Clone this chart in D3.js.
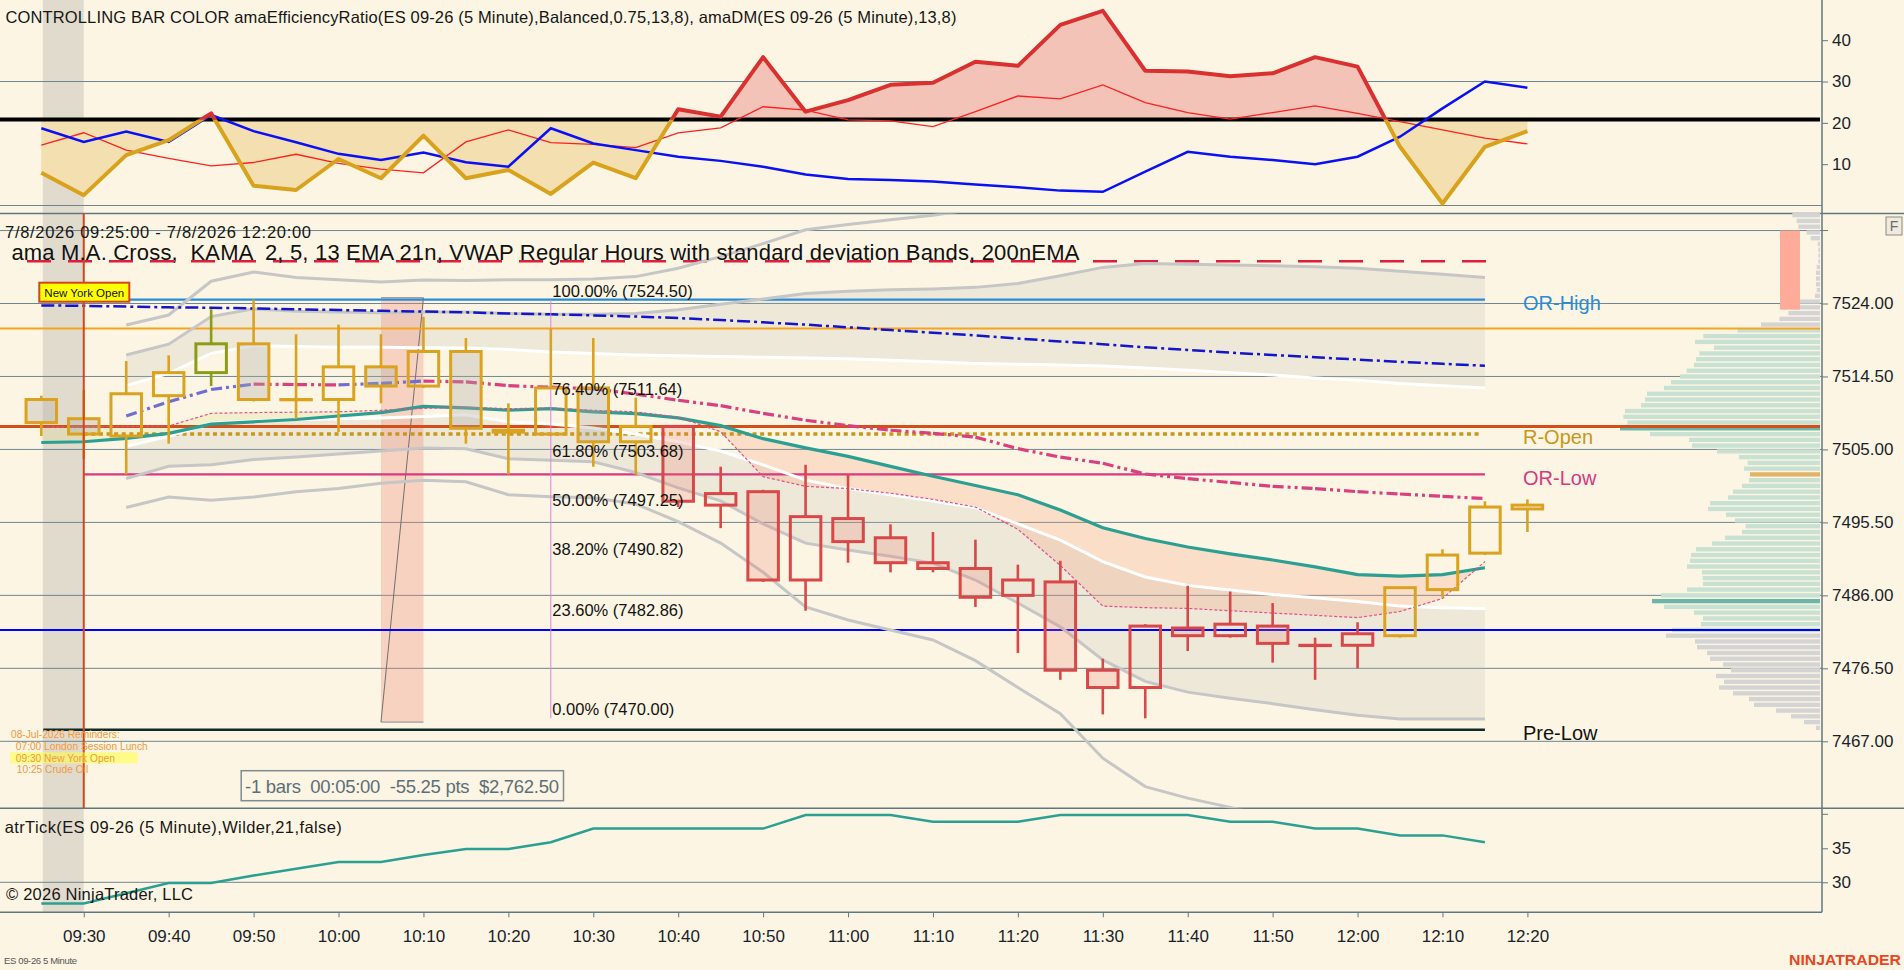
<!DOCTYPE html>
<html>
<head>
<meta charset="utf-8">
<script src="https://cdn.jsdelivr.net/npm/d3@7"></script>
<style>
  body { margin: 0; background: #fcf5e3; overflow: hidden; }
  svg { display: block; }
  text { font-family: "Liberation Sans", Arial, sans-serif; }
</style>
</head>
<body>
<svg id="chart"></svg>
<script>
// ---- bars (ES 09-26, 5 minute) ----
var times = ["09:25","09:30","09:35","09:40","09:45","09:50","09:55","10:00","10:05","10:10","10:15","10:20",
  "10:25","10:30","10:35","10:40","10:45","10:50","10:55","11:00","11:05","11:10","11:15","11:20",
  "11:25","11:30","11:35","11:40","11:45","11:50","11:55","12:00","12:05","12:10","12:15","12:20"];
var open  = [7511.5,7509.0,7506.75,7512.0,7515.0,7518.75,7511.5,7511.5,7515.75,7513.25,7517.75,7507.5,
  7507.0,7513.0,7506.0,7508.0,7497.75,7499.5,7488.0,7496.0,7493.5,7490.25,7489.5,7486.0,
  7487.75,7476.25,7474.0,7481.75,7480.75,7482.0,7479.5,7479.5,7480.75,7486.75,7491.5,7497.25];
var high  = [7512.0,7512.75,7516.5,7517.25,7523.25,7524.5,7520.0,7521.25,7520.0,7522.25,7519.5,7511.0,
  7520.75,7519.5,7511.75,7508.0,7502.75,7499.75,7503.0,7501.75,7495.25,7494.25,7493.25,7490.0,
  7490.5,7477.75,7482.25,7487.25,7486.5,7485.0,7480.5,7482.5,7487.0,7492.0,7498.25,7498.5];
var low   = [7506.75,7503.75,7501.75,7505.75,7513.25,7511.25,7509.0,7507.25,7511.0,7513.0,7505.75,7501.75,
  7506.75,7502.75,7501.75,7497.5,7494.75,7487.75,7484.0,7490.25,7489.0,7489.0,7484.5,7478.5,
  7475.0,7470.5,7470.0,7478.75,7480.5,7477.25,7475.0,7476.5,7480.5,7485.75,7491.25,7494.25];
var close = [7508.5,7507.0,7512.25,7515.0,7518.75,7511.5,7511.5,7515.75,7513.25,7517.75,7507.75,7507.25,
  7513.0,7506.0,7508.0,7498.25,7499.25,7488.0,7496.25,7493.0,7490.25,7489.5,7485.75,7488.0,
  7476.25,7474.0,7482.0,7480.75,7482.25,7479.75,7479.5,7481.0,7487.0,7491.25,7497.5,7497.75];
var barColor = ["gold","gold","gold","gold","olive","gold","gold","gold","gold","gold","gold","gold",
  "gold","gold","gold","red","red","red","red","red","red","red","red","red",
  "red","red","red","red","red","red","red","red","gold","gold","gold","gold"];

// ---- price panel indicators ----
var ema21 = [7505.9,7506.0,7506.45,7507.1,7508.3,7508.6,7508.9,7509.35,7509.8,7510.6,7510.4,7510.1,
  7510.3,7509.9,7509.65,7509.1,7508.1,7506.4,7505.2,7504.1,7502.8,7501.5,7500.3,7499.1,
  7497.1,7494.8,7493.4,7492.3,7491.4,7490.6,7489.7,7488.7,7488.5,7488.7,7489.6];
var kama = [7507.9,7507.9,7508.0,7508.05,7509.7,7509.8,7509.85,7509.9,7510.1,7510.35,7510.5,7510.3,
  7510.4,7510.1,7509.9,7509.2,7507.3,7501.45,7500.2,7499.9,7499.3,7498.5,7497.5,7494.6,
  7489.9,7484.6,7484.4,7484.3,7484.0,7483.7,7483.4,7483.1,7483.9,7485.6,7490.4];
var ema200 = [7523.75,7523.7,7523.6,7523.5,7523.45,7523.35,7523.25,7523.15,7523.05,7522.95,7522.85,7522.7,
  7522.6,7522.45,7522.3,7522.1,7521.85,7521.55,7521.25,7520.9,7520.55,7520.2,7519.85,7519.45,
  7519.05,7518.7,7518.3,7517.95,7517.6,7517.3,7517.0,7516.7,7516.4,7516.15,7515.9];
var vwap = [null,null,7509.35,7511.2,7512.8,7513.5,7513.45,7513.4,7513.6,7513.9,7513.8,7513.3,
  7513.1,7512.9,7512.2,7511.4,7510.7,7509.7,7508.8,7508.1,7507.5,7507.1,7506.6,7505.1,
  7504.0,7503.2,7501.8,7501.2,7500.7,7500.2,7499.9,7499.5,7499.2,7498.9,7498.6];
var vwapUp1 = [null,null,7513.3,7514.9,7517.5,7518.5,7518.4,7518.3,7518.3,7518.25,7518.2,7518.0,
  7517.7,7517.5,7517.3,7517.2,7517.1,7517.0,7516.9,7516.8,7516.6,7516.4,7516.2,7516.1,
  7516.0,7515.85,7515.6,7515.3,7515.0,7514.7,7514.3,7514.0,7513.6,7513.3,7513.0];
var vwapUp2 = [null,null,7517.3,7518.7,7522.3,7523.3,7523.0,7522.9,7522.8,7522.9,7522.9,7522.7,
  7522.6,7522.6,7522.7,7523.2,7523.9,7524.6,7525.3,7525.6,7525.8,7525.9,7526.1,7526.6,
  7527.6,7528.7,7529.2,7529.1,7529.0,7528.9,7528.8,7528.6,7528.2,7527.8,7527.4];
var vwapUp3 = [null,null,7521.2,7522.5,7526.9,7528.1,7527.4,7527.1,7526.8,7527.05,7527.0,7527.1,
  7527.1,7527.2,7527.5,7528.6,7530.1,7531.8,7533.6,7534.3,7534.9,7535.5,7536.3,7538.0];
var vwapDn1 = [null,null,7505.4,7506.7,7508.4,7508.7,7508.9,7509.0,7509.1,7509.3,7509.5,7508.6,
  7508.3,7507.8,7507.0,7506.0,7504.8,7503.0,7501.0,7499.9,7499.1,7498.3,7497.4,7495.3,
  7493.2,7490.4,7488.4,7487.3,7486.7,7486.1,7485.7,7485.2,7484.6,7484.4,7484.3];
var vwapDn2 = [null,null,7501.2,7502.8,7503.0,7503.7,7504.0,7504.4,7504.8,7505.2,7505.1,7503.8,
  7503.6,7503.4,7502.0,7500.0,7498.3,7495.3,7492.8,7491.9,7491.1,7490.2,7488.0,7485.0,
  7481.9,7477.6,7474.8,7473.4,7472.6,7471.9,7471.1,7470.4,7469.9,7469.9,7469.9];
var vwapDn3 = [null,null,7497.45,7498.8,7498.4,7498.8,7499.5,7499.9,7500.6,7501.0,7500.8,7499.1,
  7498.85,7498.7,7497.9,7495.6,7492.8,7489.0,7484.5,7482.8,7481.5,7480.2,7477.5,7474.0,
  7470.6,7464.8,7461.1,7459.6,7458.4,7457.2];

// ---- levels ----
var levelNames  = ["OR-High", "R-Open", "OR-Low", "Pre-Low"];
var levelPrices = [7524.50, 7507.00, 7501.75, 7468.50];
var fullLinePrices = [7520.75, 7508.00, 7481.50];
var crossLinePrice = 7529.50;
var fibPercents = [100, 76.4, 61.8, 50, 38.2, 23.6, 0];
var fibPrices   = [7524.50, 7511.64, 7503.68, 7497.25, 7490.82, 7482.86, 7470.00];
var rulerTop = 7524.75, rulerBottom = 7469.50;
var priceTicks = [7524.00, 7514.50, 7505.00, 7495.50, 7486.00, 7476.50, 7467.00];
var priceGrid  = [7533.50, 7524.00, 7514.50, 7505.00, 7495.50, 7486.00, 7476.50, 7467.00];

// ---- volume profile ----
var vpPrices = [7535.5,7534.75,7534,7533.25,7532.5,7531.75,7531,7530.25,7529.5,7528.75,
  7528,7527.25,7526.5,7525.75,7525,7524.25,7523.5,7522.75,7522,7521.25,
  7520.5,7519.75,7519,7518.25,7517.5,7516.75,7516,7515.25,7514.5,7513.75,
  7513,7512.25,7511.5,7510.75,7510,7509.25,7508.5,7507.75,7507,7506.25,
  7505.5,7504.75,7504,7503.25,7502.5,7501.75,7501,7500.25,7499.5,7498.75,
  7498,7497.25,7496.5,7495.75,7495,7494.25,7493.5,7492.75,7492,7491.25,
  7490.5,7489.75,7489,7488.25,7487.5,7486.75,7486,7485.25,7484.5,7483.75,
  7483,7482.25,7481.5,7480.75,7480,7479.25,7478.5,7477.75,7477,7476.25,
  7475.5,7474.75,7474,7473.25,7472.5,7471.75,7471,7470.25,7469.5,7468.75];
var vpVolume = [83,70,65,40,28,7,5,5,5,10,
  12,12,12,10,15,60,85,95,122,177,
  248,350,375,318,362,372,378,400,420,447,
  468,519,525,537,585,590,578,600,510,393,
  384,309,243,217,228,210,213,234,261,276,
  330,336,282,255,223,234,285,324,372,387,
  390,399,354,352,351,399,477,504,468,378,
  351,357,444,462,375,369,339,330,291,267,
  312,288,303,261,213,198,132,87,48,12];
var valueAreaHigh = 7520.5, valueAreaLow = 7481.5;
var markedRows = [7507.75, 7485.25];
var openRangeRow = 7501.75;

// ---- top panel: amaEfficiencyRatio / amaDM ----
var effRatio = [7.9,2.5,12.2,15.8,22.3,4.8,3.75,11.25,6.6,16.9,6.6,8.6,
  2.8,10.4,6.6,23.3,21.5,35.9,22.7,25.5,29.2,29.7,34.8,33.8,
  43.7,47.1,32.6,32.4,31.3,32.0,35.9,33.6,14.2,0.5,14.2,18.0];
var dmRed = [14.6,17.6,13.4,11.4,9.6,10.4,12.4,10.2,8.8,7.9,15.4,18.3,
  15.2,14.8,14.0,17.6,18.8,23.9,23.1,20.7,20.5,19.1,22.7,26.5,
  25.8,29.2,24.9,22.5,20.9,22.5,24.1,22.3,20.3,18.3,16.3,14.9];
var dmBlue = [18.7,15.4,17.9,15.4,21.9,18.0,15.3,12.5,11.0,12.8,10.45,9.4,
  18.7,15.0,13.4,11.8,10.8,9.4,7.5,6.4,6.2,5.8,5.1,4.4,
  3.6,3.3,8.2,13.0,11.8,11.0,10.0,11.8,16.65,23.5,30.0,28.5];
var erThreshold = 20.8;
var topTicks = [10, 20, 30, 40];

// ---- bottom panel: atrTick ----
var atrTick = [26.9,26.9,28.4,29.9,29.9,31.0,32.0,33.0,33.0,34.0,34.9,34.9,
  35.9,37.9,37.9,37.9,37.9,37.9,39.9,39.9,39.9,38.9,38.9,38.9,
  39.9,39.9,39.9,39.9,38.9,38.9,37.9,37.9,36.9,36.9,35.9];
var atrTicks = [30, 35];

// ================= drawing =================
var W = 1904, H = 970;
var bg = "#fcf5e3";
var gridColor = "#6d8690";
var axisX = 1822, plotRight = 1820;
var mainTop = 213.5, mainBottom = 808.3, atrBottom = 912.3, topBottom = 212;

var svg = d3.select("#chart").attr("width", W).attr("height", H);
svg.append("rect").attr("width", W).attr("height", H).attr("fill", bg);

var parseT = d3.timeParse("%H:%M");
var x = d3.scaleTime().domain([parseT("09:25"), parseT("12:20")]).range([41.3, 1527.4]);
var xi = function(i) { return x(parseT(times[i])); };
var y = d3.scaleLinear().domain([7467, 7524]).range([741.3, 303.5]);
var yTop = d3.scaleLinear().domain([0, 40]).range([205.5, 40.2]);
var yAtr = d3.scaleLinear().domain([30, 35]).range([882.3, 848.3]);

var defs = svg.append("defs");
defs.append("clipPath").attr("id", "clipMain").append("rect")
  .attr("x", 0).attr("y", mainTop).attr("width", plotRight).attr("height", mainBottom - mainTop);
defs.append("clipPath").attr("id", "clipTop").append("rect")
  .attr("x", 0).attr("y", 0).attr("width", plotRight).attr("height", topBottom);
var thY = yTop(erThreshold);
defs.append("clipPath").attr("id", "clipAbove").append("rect")
  .attr("x", 0).attr("y", 0).attr("width", plotRight).attr("height", thY);
defs.append("clipPath").attr("id", "clipBelow").append("rect")
  .attr("x", 0).attr("y", thY).attr("width", plotRight).attr("height", topBottom - thY);

// highlighted first bar column
svg.append("rect")
  .attr("x", xi(0) + 1.5).attr("y", 0)
  .attr("width", xi(1) - xi(0) - 1.5).attr("height", atrBottom)
  .attr("fill", "rgba(150,150,150,0.27)");

// grid
svg.append("g").selectAll("line").data(priceGrid).enter().append("line")
  .attr("x1", 0).attr("x2", axisX).attr("y1", d => y(d)).attr("y2", d => y(d))
  .attr("stroke", gridColor).attr("stroke-width", 1);
svg.append("g").selectAll("line").data([30, 0]).enter().append("line")
  .attr("x1", 0).attr("x2", axisX).attr("y1", d => yTop(d)).attr("y2", d => yTop(d))
  .attr("stroke", gridColor).attr("stroke-width", 1);
svg.append("line").attr("x1", 0).attr("x2", axisX).attr("y1", yAtr(30)).attr("y2", yAtr(30))
  .attr("stroke", gridColor).attr("stroke-width", 1);

// panel separators + axis line
[[mainTop, W], [mainBottom, W], [atrBottom, axisX]].forEach(function(s) {
  svg.append("line").attr("x1", 0).attr("x2", s[1]).attr("y1", s[0]).attr("y2", s[0])
    .attr("stroke", "#5f7880").attr("stroke-width", 1.5);
});
svg.append("line").attr("x1", axisX).attr("x2", axisX).attr("y1", 0).attr("y2", atrBottom)
  .attr("stroke", "#5f7880").attr("stroke-width", 1.5);

// ---------- top panel ----------
var topG = svg.append("g").attr("clip-path", "url(#clipTop)");
var erArea = d3.area().x((d, i) => xi(i)).y0(thY).y1(d => yTop(d));
var erLine = d3.line().x((d, i) => xi(i)).y(d => yTop(d));
topG.append("g").attr("clip-path", "url(#clipAbove)").append("path")
  .attr("d", erArea(effRatio)).attr("fill", "#f3c3b7");
topG.append("g").attr("clip-path", "url(#clipBelow)").append("path")
  .attr("d", erArea(effRatio)).attr("fill", "#f3dfb0");
topG.append("line").attr("x1", 0).attr("x2", plotRight).attr("y1", thY).attr("y2", thY)
  .attr("stroke", "#000").attr("stroke-width", 4);
topG.append("path").attr("d", erLine(dmRed)).attr("fill", "none")
  .attr("stroke", "#ff2020").attr("stroke-width", 1.3);
topG.append("path").attr("d", erLine(dmBlue)).attr("fill", "none")
  .attr("stroke", "#0a10f5").attr("stroke-width", 2.5);
topG.append("g").attr("clip-path", "url(#clipAbove)").append("path")
  .attr("d", erLine(effRatio)).attr("fill", "none")
  .attr("stroke", "#da3030").attr("stroke-width", 4).attr("stroke-linejoin", "round");
topG.append("g").attr("clip-path", "url(#clipBelow)").append("path")
  .attr("d", erLine(effRatio)).attr("fill", "none")
  .attr("stroke", "#d9a21d").attr("stroke-width", 4).attr("stroke-linejoin", "round");

// ---------- volume profile ----------
var vpW = d3.scaleLinear().domain([0, 600]).range([0, 200]);
svg.append("g").selectAll("rect").data(vpPrices).enter().append("rect")
  .attr("x", (d, i) => plotRight - vpW(vpVolume[i]))
  .attr("y", d => y(d) - 2.15)
  .attr("width", (d, i) => vpW(vpVolume[i]))
  .attr("height", 4.3)
  .attr("fill", function(d) {
    if (markedRows.indexOf(d) >= 0) return "#6cb5a9";
    if (d === openRangeRow) return "#e2b266";
    if (d > valueAreaHigh || d < valueAreaLow) return "#d4d4d4";
    return "#c9e1d3";
  });
svg.append("rect").attr("x", 1780).attr("width", 20)
  .attr("y", y(7533.5)).attr("height", y(7523.2) - y(7533.5))
  .attr("fill", "#ffab9a");

// ---------- main panel ----------
var mainG = svg.append("g").attr("clip-path", "url(#clipMain)");
var idx = d3.range(35);

function bandArea(a, b) {
  return d3.area().defined(i => a[i] != null && b[i] != null)
    .x(i => xi(i)).y0(i => y(a[i])).y1(i => y(b[i]))(idx);
}
mainG.append("path").attr("d", bandArea(vwapUp1, vwapUp2)).attr("fill", "rgba(190,185,180,0.22)");
mainG.append("path").attr("d", bandArea(vwapDn1, vwapDn2)).attr("fill", "rgba(190,185,180,0.22)");

// KAMA / EMA cross fill
var emaBelow = d3.area().x(i => xi(i)).y0(i => y(ema21[i])).y1(mainBottom)(idx);
var emaAbove = d3.area().x(i => xi(i)).y0(mainTop).y1(i => y(ema21[i]))(idx);
defs.append("clipPath").attr("id", "clipEmaBelow").append("path").attr("d", emaBelow);
defs.append("clipPath").attr("id", "clipEmaAbove").append("path").attr("d", emaAbove);
var crossArea = d3.area().x(i => xi(i)).y0(i => y(ema21[i])).y1(i => y(kama[i]))(idx);
mainG.append("g").attr("clip-path", "url(#clipEmaBelow)").append("path")
  .attr("d", crossArea).attr("fill", "rgba(245,160,130,0.28)");
mainG.append("g").attr("clip-path", "url(#clipEmaAbove)").append("path")
  .attr("d", crossArea).attr("fill", "rgba(215,215,120,0.22)");

// ruler drawing
var rx0 = xi(8), rx1 = xi(9);
mainG.append("rect").attr("x", rx0).attr("width", rx1 - rx0)
  .attr("y", y(rulerTop)).attr("height", y(rulerBottom) - y(rulerTop))
  .attr("fill", "rgba(240,140,120,0.33)");
[rulerTop, rulerBottom].forEach(function(p) {
  mainG.append("line").attr("x1", rx0).attr("x2", rx1).attr("y1", y(p)).attr("y2", y(p))
    .attr("stroke", "#8a8a8a").attr("stroke-width", 1);
});
mainG.append("line").attr("x1", rx1).attr("y1", y(rulerTop)).attr("x2", rx0).attr("y2", y(rulerBottom))
  .attr("stroke", "#707070").attr("stroke-width", 1);

// full-width levels
var fullColors = ["#f5a41e", "#d24f1a", "#0000ff"];
var fullWidths = [2, 3, 2];
mainG.selectAll(".full").data(fullLinePrices).enter().append("line")
  .attr("x1", 0).attr("x2", plotRight).attr("y1", d => y(d)).attr("y2", d => y(d))
  .attr("stroke", (d, i) => fullColors[i]).attr("stroke-width", (d, i) => fullWidths[i]);

// session levels
var levelColors = ["#2b8bd6", "#c9961c", "#d63a7f", "#0d2b2b"];
mainG.selectAll(".lvl").data(levelPrices).enter().append("line")
  .attr("x1", (d, i) => i === 3 ? xi(0) + 2 : xi(1))
  .attr("x2", (d, i) => i === 1 ? xi(34) - 5 : xi(34))
  .attr("y1", d => y(d)).attr("y2", d => y(d))
  .attr("stroke", (d, i) => levelColors[i])
  .attr("stroke-width", (d, i) => i === 1 ? 3.5 : (i === 3 ? 2.5 : 2.2))
  .attr("stroke-dasharray", (d, i) => i === 1 ? "4,3.6" : null);
svg.selectAll(".lvlText").data(levelNames).enter().append("text")
  .attr("x", 1523).attr("y", (d, i) => y(levelPrices[i]) + 5)
  .attr("dominant-baseline", "middle")
  .attr("font-size", 20).attr("fill", (d, i) => levelColors[i] === "#0d2b2b" ? "#111" : levelColors[i])
  .text(d => d);

// M.A. cross line (dashed red)
mainG.append("line").attr("x1", 27).attr("x2", 1501)
  .attr("y1", y(crossLinePrice)).attr("y2", y(crossLinePrice))
  .attr("stroke", "#dc1f3f").attr("stroke-width", 2.6).attr("stroke-dasharray", "24,17");

// VWAP bands
function seriesLine(arr) {
  return d3.line().defined(i => arr[i] != null).x(i => xi(i)).y(i => y(arr[i]))(idx);
}
[vwapUp3, vwapDn3, vwapUp2, vwapDn2].forEach(function(a) {
  mainG.append("path").attr("d", seriesLine(a)).attr("fill", "none")
    .attr("stroke", "#c6c6c6").attr("stroke-width", 3);
});
[vwapUp1, vwapDn1].forEach(function(a) {
  mainG.append("path").attr("d", seriesLine(a)).attr("fill", "none")
    .attr("stroke", "#ffffff").attr("stroke-width", 3);
});

// EMA 21
mainG.append("path").attr("d", seriesLine(ema21)).attr("fill", "none")
  .attr("stroke", "#2a9f92").attr("stroke-width", 3.2);
// KAMA
mainG.append("path").attr("d", seriesLine(kama)).attr("fill", "none")
  .attr("stroke", "#e2508c").attr("stroke-width", 1.2).attr("stroke-dasharray", "3,2");
// 200 nEMA
mainG.append("path").attr("d", seriesLine(ema200)).attr("fill", "none")
  .attr("stroke", "#1414c8").attr("stroke-width", 2.5).attr("stroke-dasharray", "13,4,3,4");
// VWAP, coloured by slope
d3.range(2, 34).forEach(function(i) {
  var rising = vwap[i + 1] >= vwap[i];
  mainG.append("line")
    .attr("x1", xi(i)).attr("y1", y(vwap[i])).attr("x2", xi(i + 1)).attr("y2", y(vwap[i + 1]))
    .attr("stroke", rising ? "#6f6fd2" : "#d8407f").attr("stroke-width", 3.2)
    .attr("stroke-dasharray", "11,4,3,4,3,4");
});

// fib vertical
var fibX = xi(12);
mainG.append("line").attr("x1", fibX).attr("x2", fibX)
  .attr("y1", y(fibPrices[0])).attr("y2", y(fibPrices[6]))
  .attr("stroke", "#e27ef0").attr("stroke-width", 1);

// candles
var colorMap = { gold: "#daa21f", red: "#d94848", olive: "#8b9c16" };
var downFill = { gold: "rgba(170,170,165,0.33)", red: "rgba(235,120,100,0.22)", olive: "rgba(170,170,165,0.33)" };
var bw = 30.5;
var candles = mainG.append("g").selectAll("g").data(d3.range(times.length)).enter().append("g");
candles.each(function(i) {
  var g = d3.select(this);
  var cx = xi(i), col = colorMap[barColor[i]];
  var top = y(Math.max(open[i], close[i])), bot = y(Math.min(open[i], close[i]));
  g.append("line").attr("x1", cx).attr("x2", cx).attr("y1", y(high[i])).attr("y2", top)
    .attr("stroke", col).attr("stroke-width", 2.6);
  g.append("line").attr("x1", cx).attr("x2", cx).attr("y1", bot).attr("y2", y(low[i]))
    .attr("stroke", col).attr("stroke-width", 2.6);
  g.append("rect").attr("x", cx - bw / 2).attr("y", top)
    .attr("width", bw).attr("height", Math.max(bot - top, 0.3))
    .attr("fill", close[i] < open[i] ? downFill[barColor[i]] : "none")
    .attr("stroke", col).attr("stroke-width", 3);
});

// fib labels
svg.selectAll(".fib").data(fibPrices).enter().append("text")
  .attr("x", fibX + 1.5).attr("y", d => y(d) - 3)
  .attr("font-size", 16.5).attr("fill", "#121212")
  .text((d, i) => fibPercents[i].toFixed(2) + "% (" + d.toFixed(2) + ")");

// New York open marker
svg.append("line").attr("x1", xi(1)).attr("x2", xi(1)).attr("y1", mainTop).attr("y2", mainBottom)
  .attr("stroke", "#d2451e").attr("stroke-width", 2);
svg.append("rect").attr("x", 39.3).attr("y", 282.7).attr("width", 90).attr("height", 19)
  .attr("fill", "#ffff00").attr("stroke", "#d2451e").attr("stroke-width", 2);
svg.append("text").attr("x", 84.3).attr("y", 296.5).attr("text-anchor", "middle")
  .attr("font-size", 11.5).attr("fill", "#111").text("New York Open");

// reminders
var remG = svg.append("g").attr("font-size", 10.2).attr("fill", "#f39a3c");
remG.append("rect").attr("x", 10).attr("y", 752.3).attr("width", 127.6).attr("height", 11)
  .attr("fill", "rgba(255,255,60,0.55)");
remG.append("text").attr("x", 11).attr("y", 738).text("08-Jul-2026 Reminders:");
remG.append("text").attr("x", 15.8).attr("y", 749.5).text("07:00 London Session Lunch");
remG.append("text").attr("x", 15.8).attr("y", 761.5).text("09:30 New York Open");
remG.append("text").attr("x", 16.8).attr("y", 773).text("10:25 Crude Oil");

// ruler readout box
svg.append("rect").attr("x", 241.2).attr("y", 770.7).attr("width", 322.3).attr("height", 30)
  .attr("fill", "none").attr("stroke", "#7d8c92").attr("stroke-width", 1.5);
svg.append("text").attr("x", 245).attr("y", 792.5).attr("font-size", 18.5)
  .attr("fill", "#5c6f78").attr("textLength", 314).style("white-space", "pre")
  .text("-1 bars  00:05:00  -55.25 pts  $2,762.50");

// ---------- bottom panel ----------
svg.append("path").attr("d", d3.line().x((d, i) => xi(i)).y(d => yAtr(d))(atrTick))
  .attr("fill", "none").attr("stroke", "#2aa093").attr("stroke-width", 2.5);

// ---------- axes ----------
var axisFont = 17;
var pAxis = svg.append("g").attr("transform", "translate(" + axisX + ",0)")
  .call(d3.axisRight(y).tickValues(priceTicks).tickFormat(d3.format(".2f")).tickSize(6).tickPadding(4));
svg.append("line").attr("x1", axisX).attr("x2", axisX + 6).attr("y1", y(7533.5)).attr("y2", y(7533.5))
  .attr("stroke", "#5f7880");
var tAxis = svg.append("g").attr("transform", "translate(" + axisX + ",0)")
  .call(d3.axisRight(yTop).tickValues(topTicks).tickFormat(d3.format("d")).tickSize(6).tickPadding(4));
var aAxis = svg.append("g").attr("transform", "translate(" + axisX + ",0)")
  .call(d3.axisRight(yAtr).tickValues(atrTicks).tickFormat(d3.format("d")).tickSize(6).tickPadding(4));
svg.append("line").attr("x1", axisX).attr("x2", axisX + 6).attr("y1", yAtr(40)).attr("y2", yAtr(40))
  .attr("stroke", "#5f7880");
var tenMin = times.filter(t => +t.slice(3) % 10 === 0).map(parseT);
var xAxis = svg.append("g").attr("transform", "translate(0," + atrBottom + ")")
  .call(d3.axisBottom(x).tickValues(tenMin).tickFormat(d3.timeFormat("%H:%M")).tickSize(5).tickPadding(13));
[pAxis, tAxis, aAxis, xAxis].forEach(function(a) {
  a.select(".domain").remove();
  a.selectAll(".tick line").attr("stroke", "#5f7880");
  a.selectAll("text").attr("font-size", axisFont).attr("fill", "#1b1f2a")
    .attr("font-family", "'Liberation Sans', Arial, sans-serif");
});

// ---------- titles / misc text ----------
svg.append("text").attr("x", 5.4).attr("y", 22.5).attr("font-size", 16.5).attr("fill", "#161616")
  .attr("textLength", 951)
  .text("CONTROLLING BAR COLOR amaEfficiencyRatio(ES 09-26 (5 Minute),Balanced,0.75,13,8), amaDM(ES 09-26 (5 Minute),13,8)");
svg.append("text").attr("x", 5).attr("y", 237.5).attr("font-size", 16.5).attr("fill", "#161616")
  .attr("textLength", 306).text("7/8/2026 09:25:00 - 7/8/2026 12:20:00");
svg.append("text").attr("x", 11.4).attr("y", 259.5).attr("font-size", 22).attr("fill", "#111")
  .attr("textLength", 1068).style("white-space", "pre")
  .text("ama M.A. Cross,  KAMA  2, 5, 13 EMA 21n, VWAP Regular Hours with standard deviation Bands, 200nEMA");
svg.append("text").attr("x", 4.7).attr("y", 832.5).attr("font-size", 16.5).attr("fill", "#161616")
  .attr("textLength", 337).text("atrTick(ES 09-26 (5 Minute),Wilder,21,false)");
svg.append("text").attr("x", 6).attr("y", 899.5).attr("font-size", 16.5).attr("fill", "#161616")
  .attr("textLength", 187).text("\u00a9 2026 NinjaTrader, LLC");
svg.append("text").attr("x", 4).attr("y", 964).attr("font-size", 9.5).attr("fill", "#555")
  .attr("textLength", 73).text("ES 09-26 5 Minute");
svg.append("text").attr("x", 1789).attr("y", 965).attr("font-size", 14).attr("font-weight", "bold")
  .attr("fill", "#e8471f").attr("textLength", 112).attr("lengthAdjust", "spacingAndGlyphs")
  .text("NINJATRADER");
svg.append("rect").attr("x", 1886).attr("y", 217).attr("width", 16).attr("height", 18)
  .attr("fill", "#efeadb").attr("stroke", "#8a8a8a").attr("stroke-width", 1);
svg.append("text").attr("x", 1894).attr("y", 231).attr("text-anchor", "middle")
  .attr("font-size", 14).attr("fill", "#6a6a6a").text("F");
</script>
</body>
</html>
